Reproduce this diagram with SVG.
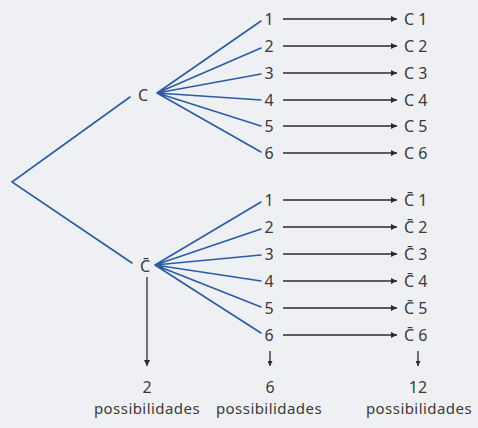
<svg xmlns="http://www.w3.org/2000/svg" width="478" height="428" viewBox="0 0 478 428">
<defs>
<marker id="ah" viewBox="0 0 10 10" refX="10" refY="5" markerWidth="9" markerHeight="6" markerUnits="userSpaceOnUse" orient="auto">
<path d="M0,0 L10,5 L0,10 z" fill="#2a2a2a"/>
</marker>
<marker id="ahs" viewBox="0 0 10 10" refX="10" refY="5" markerWidth="8" markerHeight="5" markerUnits="userSpaceOnUse" orient="auto">
<path d="M0,0 L10,5 L0,10 z" fill="#2a2a2a"/>
</marker>
</defs>
<style>
text{font-family:"Noto Sans","Open Sans","DejaVu Sans",sans-serif;font-size:16px;fill:#3a3a3a}
.m{text-anchor:middle}
.p{font-size:15px;letter-spacing:0.45px}
.b{stroke:#2c5ba6;stroke-width:1.6;fill:none;stroke-linecap:round}
.a{stroke:#2a2a2a;stroke-width:1.3;fill:none;marker-end:url(#ah)}
.s{stroke:#2a2a2a;stroke-width:1.3;fill:none;marker-end:url(#ahs)}
</style>
<rect width="478" height="428" fill="#eef0f3"/>
<g id="connectors">
<path class="b" d="M130,97 L12,182 L132,263"/>
<path class="b" d="M157,93 L261,21 M157,93 L261,48 M157,93 L261,74 M157,93 L261,100 M157,93 L261,126 M157,93 L261,152"/>
<path class="b" d="M155,265 L261,202 M155,265 L261,229 M155,265 L261,255 M155,265 L261,281 M155,265 L261,307 M155,265 L261,333"/>
<path class="a" d="M283,19 H397"/>
<path class="a" d="M283,46 H397"/>
<path class="a" d="M283,73 H397"/>
<path class="a" d="M283,100 H397"/>
<path class="a" d="M283,126 H397"/>
<path class="a" d="M283,153 H397"/>
<path class="a" d="M283,200 H397"/>
<path class="a" d="M283,227 H397"/>
<path class="a" d="M283,254 H397"/>
<path class="a" d="M283,281 H397"/>
<path class="a" d="M283,308 H397"/>
<path class="a" d="M283,335 H397"/>
<path class="a" d="M147,277 V366"/>
<path class="s" d="M270,351 V366"/>
<path class="s" d="M418,351 V366"/>
</g>
<g id="n-C"><text class="m" x="143" y="101">C</text></g>
<g id="n-Cbar"><text class="m" x="145" y="272">C̄</text></g>
<g id="n-C-digits">
<text class="m" x="269" y="25">1</text>
<text class="m" x="269" y="52">2</text>
<text class="m" x="269" y="79">3</text>
<text class="m" x="269" y="106">4</text>
<text class="m" x="269" y="132">5</text>
<text class="m" x="269" y="159">6</text>
</g>
<g id="n-Cbar-digits">
<text class="m" x="269" y="206">1</text>
<text class="m" x="269" y="233">2</text>
<text class="m" x="269" y="260">3</text>
<text class="m" x="269" y="287">4</text>
<text class="m" x="269" y="314">5</text>
<text class="m" x="269" y="341">6</text>
</g>
<g id="n-C-results">
<text x="404" y="25">C 1</text>
<text x="404" y="52">C 2</text>
<text x="404" y="79">C 3</text>
<text x="404" y="106">C 4</text>
<text x="404" y="132">C 5</text>
<text x="404" y="159">C 6</text>
</g>
<g id="n-Cbar-results">
<text x="404" y="206">C̄ 1</text>
<text x="404" y="233">C̄ 2</text>
<text x="404" y="260">C̄ 3</text>
<text x="404" y="287">C̄ 4</text>
<text x="404" y="314">C̄ 5</text>
<text x="404" y="341">C̄ 6</text>
</g>
<g id="n-total2"><text class="m" x="147" y="393">2</text><text class="m p" x="147" y="414">possibilidades</text></g>
<g id="n-total6"><text class="m" x="270" y="393">6</text><text class="m p" x="269" y="414">possibilidades</text></g>
<g id="n-total12"><text class="m" x="418" y="393">12</text><text class="m p" x="419" y="414">possibilidades</text></g>
</svg>
